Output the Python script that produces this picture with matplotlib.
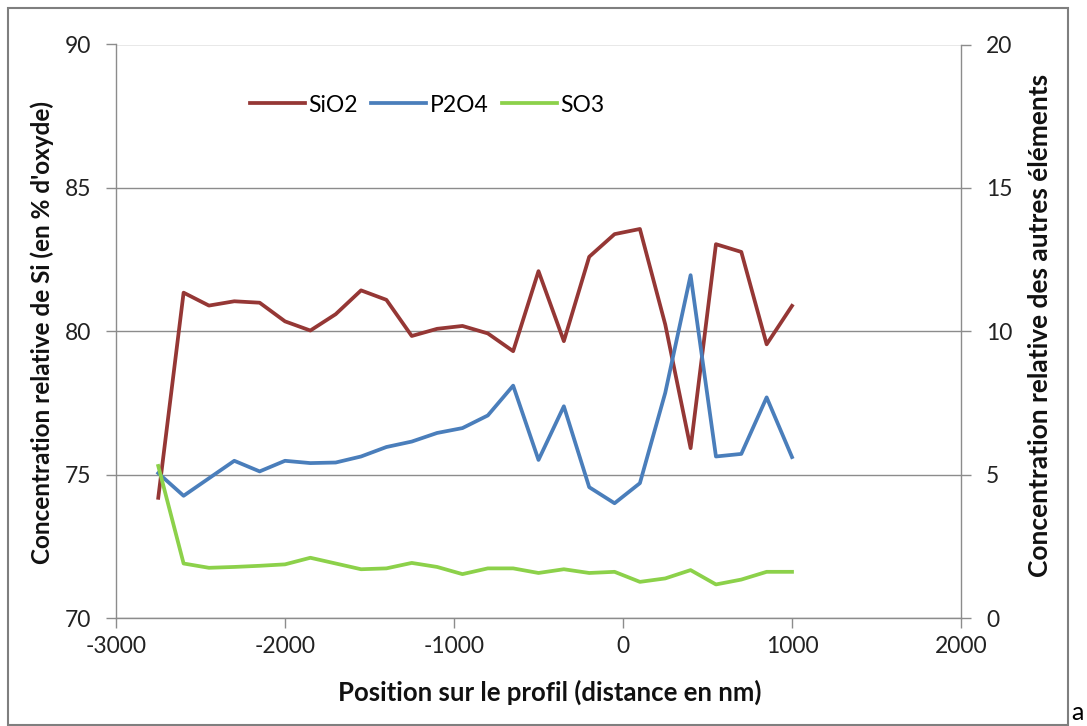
import matplotlib
matplotlib.use("Agg")
import matplotlib.pyplot as plt
from matplotlib.patches import Rectangle

positions = [-2750, -2600, -2450, -2300, -2150, -2000, -1850, -1700, -1550, -1400,
             -1250, -1100, -950, -800, -650, -500, -350, -200, -50, 100,
             250, 400, 550, 700, 850, 1000]
sio2 = [74.2, 81.35, 80.9, 81.05, 81.0, 80.35, 80.03, 80.6, 81.43, 81.1,
        79.84, 80.09, 80.19, 79.93, 79.31, 82.1, 79.66, 82.6, 83.39, 83.57,
        80.24, 75.93, 83.04, 82.77, 79.55, 80.89]
p2o4 = [5.06, 4.27, 4.88, 5.49, 5.12, 5.49, 5.41, 5.43, 5.64, 5.97,
        6.16, 6.46, 6.63, 7.07, 8.11, 5.52, 7.39, 4.57, 4.01, 4.71,
        7.86, 11.96, 5.64, 5.73, 7.70, 5.62]
so3 = [5.31, 1.91, 1.76, 1.79, 1.83, 1.88, 2.11, 1.91, 1.71, 1.74,
       1.93, 1.79, 1.54, 1.74, 1.74, 1.58, 1.71, 1.58, 1.62, 1.27,
       1.39, 1.68, 1.18, 1.35, 1.62, 1.62]

xticks = [-3000, -2000, -1000, 0, 1000, 2000]
left_ticks = [70, 75, 80, 85, 90]
right_ticks = [0, 5, 10, 15, 20]

FONT = "Lato"
plt.rcParams['font.family'] = [FONT, 'DejaVu Sans']
plt.rcParams['axes.unicode_minus'] = False

fig = plt.figure(figsize=(10.87, 7.26), dpi=100)
W, H = 1087, 726
ax = fig.add_axes([116 / W, 1 - 618.3 / H, (961 - 116) / W, (618.3 - 44.5) / H])
ax2 = ax.twinx()

grid_c = "#8c8c8c"
text_c = "#222222"
c_sio2 = "#953735"
c_p2o4 = "#4a7ebb"
c_so3 = "#8cd14a"

ax.set_xlim(-3000, 2000)
ax.set_ylim(70, 90)
ax2.set_ylim(0, 20)
ax.set_xticks(xticks)
ax.set_yticks(left_ticks)
ax2.set_yticks(right_ticks)
for v in left_ticks:
    ax.axhline(v, color=grid_c, lw=1.0, zorder=0)

l1, = ax.plot(positions, sio2, color=c_sio2, lw=2.7, label="SiO2", solid_joinstyle="round")
l2, = ax2.plot(positions, p2o4, color=c_p2o4, lw=2.7, label="P2O4", solid_joinstyle="round")
l3, = ax2.plot(positions, so3, color=c_so3, lw=2.7, label="SO3", solid_joinstyle="round")

for a in (ax, ax2):
    for s in a.spines.values():
        s.set_visible(False)
ax.spines['left'].set_visible(True)
ax.spines['bottom'].set_visible(True)
ax2.spines['right'].set_visible(True)
for s in (ax.spines['left'], ax.spines['bottom'], ax2.spines['right']):
    s.set_color(grid_c)
    s.set_linewidth(1.0)

ax.tick_params(axis='x', direction='out', length=7, width=1, color=grid_c,
               labelsize=16.5, labelcolor=text_c, pad=6)
ax.tick_params(axis='y', direction='out', length=7, width=1, color=grid_c,
               labelsize=16.5, labelcolor=text_c, pad=11)
ax2.tick_params(axis='y', direction='out', length=7, width=1, color=grid_c,
                labelsize=16.5, labelcolor=text_c, pad=11)

fig.text(550 / W, 1 - 692 / H, "Position sur le profil (distance en nm)",
         fontsize=18.5, fontweight="bold", ha="center", va="center", color="#111111")
fig.text(42 / W, 1 - 332 / H, "Concentration relative de Si (en % d'oxyde)",
         fontsize=17.5, fontweight="bold", ha="center", va="center",
         rotation=90, color="#111111")
fig.text(1040 / W, 1 - 325 / H, "Concentration relative des autres éléments",
         fontsize=19, fontweight="bold", ha="center", va="center",
         rotation=90, color="#111111")

fig.legend(handles=[l1, l2, l3], loc="center left",
           bbox_to_anchor=(229 / W, 1 - 105 / H), ncol=3, frameon=False,
           fontsize=16.5, handlelength=2.4, handletextpad=0.15,
           columnspacing=0.6)

fig.patches.append(Rectangle((8 / W, 1 / H), (1068 - 8) / W, (718 - 1) / H,
                             transform=fig.transFigure, fill=False,
                             edgecolor="#7f7f7f", lw=1.5))
fig.text(1071 / W, 1.5 / H, "a", fontsize=18, va="bottom", ha="left")

fig.savefig("out.png", dpi=100)
